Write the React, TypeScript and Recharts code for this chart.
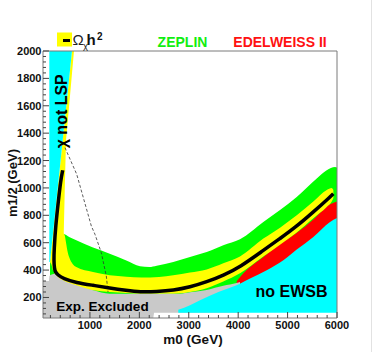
import React from "react";
import {
  Area,
  ComposedChart,
  Label,
  Line,
  ReferenceArea,
  ReferenceDot,
  XAxis,
  YAxis,
} from "recharts";

const FONT = "'Liberation Sans', Arial, Helvetica, sans-serif";
const CYAN = "#00ffff";
const YELLOW = "#ffff00";
const GREEN = "#00ff00";
const RED = "#ff0000";
const GRAY = "#c9c9c9";

// axis ticks (GeV)
const xTickLabels = [1000, 2000, 3000, 4000, 5000, 6000];
const yTickLabels = [200, 400, 600, 800, 1000, 1200, 1400, 1600, 1800, 2000];

// central Omega h^2 line (m0, m1/2)
const omegaM0 = [449, 408, 360, 307, 275, 270, 280, 300, 350, 455, 724, 1062, 1400, 1736, 2013, 2351, 2687, 3025, 3363, 3699, 4037, 4509, 4847, 5185, 5521, 5859, 5926];
const omegaM12 = [1129, 1056, 900, 727, 550, 470, 415, 385, 365, 338, 308, 289, 269, 252, 240, 243, 252, 276, 313, 362, 422, 544, 630, 720, 824, 934, 958];

// thin dashed line
const dashM0 = [495, 732, 866, 1028, 1102, 1230, 1331, 1366];
const dashM12 = [1294, 1100, 929, 722, 661, 527, 357, 240];

// yellow band, vertical strip next to "chi not LSP"
const stripM0 = [192, 220, 250, 300, 350, 400, 455, 469, 495, 516, 560, 620, 637, 677];
const stripLow = [459, 440, 400, 380, 370, 360, 360, 660, 1056, 1348, 1526, 1769, 1838, 2000];
const stripHigh = [459, 556, 660, 833, 1006, 1179, 1370, 1418, 1508, 1581, 1733, 1941, 2000, 2000];

// yellow band, along the central line
const bandM0 = [280, 455, 489, 516, 545, 590, 650, 724, 1062, 1400, 1736, 2040, 2400, 2687, 3025, 3363, 3699, 4037, 4509, 4847, 5185, 5521, 5792, 5893, 5926];
const bandTop = [700, 669, 654, 600, 540, 484, 445, 422, 386, 362, 352, 345, 350, 362, 382, 405, 450, 500, 630, 710, 800, 900, 985, 1000, 985];
const bandLow = [300, 300, 295, 290, 285, 280, 275, 270, 252, 240, 233, 228, 228, 228, 240, 268, 317, 377, 499, 585, 675, 779, 860, 900, 925];

// ZEPLIN
const zeplinM0 = [192, 449, 590, 724, 1062, 1400, 1736, 2013, 2200, 2351, 2687, 3025, 3363, 3699, 4037, 4509, 5185, 5590, 5792, 5960, 6000];
const zeplinTop = [459, 666, 640, 617, 565, 520, 470, 428, 422, 432, 459, 496, 532, 581, 625, 751, 934, 1068, 1129, 1153, 1150];

// EDELWEISS II
const edelM0 = [3970, 4100, 4509, 4847, 5185, 5521, 5859, 6000];
const edelTop = [318, 375, 496, 590, 672, 770, 880, 900];
const edelLow = [300, 300, 380, 450, 520, 600, 700, 740];

// experimentally excluded
const expM0 = [50, 170, 178, 192, 287, 350, 455, 724, 1062, 1400, 2074, 2280, 2300, 2823, 3025, 3363, 3699, 3970, 4037];
const expTop = [320, 320, 352, 362, 374, 350, 325, 289, 252, 228, 228, 228, 228, 228, 238, 255, 285, 305, 313];
const expLow = [50, 50, 50, 50, 50, 50, 50, 50, 50, 50, 50, 50, 88, 88, 88, 88, 88, 88, 88];

// no EWSB
const ewsbM0 = [2788, 3025, 3228, 3600, 4037, 4240, 4578, 4914, 5185, 5521, 5859, 6000];
const ewsbTop = [110, 143, 179, 240, 301, 338, 398, 471, 550, 642, 751, 780];

// chi not LSP
const lspM0 = [178, 192, 637];
const lspLow = [459, 459, 2000];

const pts = (xs: number[], ys: number[]) => xs.map((x, i) => ({ x, y: ys[i] }));
const rng = (xs: number[], lo: number[] | number, hi: number[] | number) =>
  xs.map((x, i) => ({
    x,
    range: [Array.isArray(lo) ? lo[i] : lo, Array.isArray(hi) ? hi[i] : hi],
  }));

const xTicks: number[] = [];
for (let v = 200; v <= 6000; v += 200) xTicks.push(v);
const yTicks: number[] = [];
for (let v = 80; v <= 2000; v += 40) yTicks.push(v);

const YTick = ({ x, y, payload }: any) => {
  const major = yTickLabels.includes(payload.value);
  return (
    <g>
      <line x1={x + 2} x2={x + 2 + (major ? 6 : 3)} y1={y} y2={y} stroke="#444" />
      {major && (
        <text x={x + 0.5} y={y} dy={4} textAnchor="end" fontSize={11} fontWeight="bold" fontFamily={FONT} fill="#111">
          {payload.value}
        </text>
      )}
    </g>
  );
};

const XTick = ({ x, y, payload }: any) => {
  const major = xTickLabels.includes(payload.value);
  return (
    <g>
      <line x1={x} x2={x} y1={y - 2} y2={y - 2 - (major ? 6 : 3)} stroke="#444" />
      {major && (
        <text x={x} y={y + 8.5} textAnchor="middle" fontSize={11} fontWeight="bold" fontFamily={FONT} fill="#111">
          {payload.value}
        </text>
      )}
    </g>
  );
};

const bold = { fontFamily: FONT, fontWeight: "bold" as const };

export default function App() {
  return (
    <div style={{ position: "absolute", left: 0, top: 0, width: 374, height: 352, background: "#fff" }}>
      <ComposedChart width={374} height={352} margin={{ top: 51, right: 37, bottom: 0, left: 0 }}>
        <XAxis
          dataKey="x"
          type="number"
          domain={[50, 6000]}
          allowDataOverflow
          ticks={xTicks}
          interval={0}
          height={34}
          tickSize={0}
          tickMargin={2}
          axisLine={false}
          tickLine={false}
          tick={<XTick />}
        />
        <YAxis
          type="number"
          domain={[50, 2000]}
          allowDataOverflow
          ticks={yTicks}
          interval={0}
          width={43}
          tickSize={0}
          tickMargin={2}
          axisLine={false}
          tickLine={false}
          tick={<YTick />}
        />
        <Area data={rng(zeplinM0, 100, zeplinTop)} dataKey="range" type="monotone" fill={GREEN} fillOpacity={1} stroke="none" isAnimationActive={false} />
        <Area data={rng(edelM0, edelLow, edelTop)} dataKey="range" type="monotone" fill={RED} fillOpacity={1} stroke="none" isAnimationActive={false} />
        <Area data={rng(bandM0, bandLow, bandTop)} dataKey="range" type="monotone" fill={YELLOW} fillOpacity={1} stroke="none" isAnimationActive={false} />
        <Area data={rng(stripM0, stripLow, stripHigh)} dataKey="range" type="linear" fill={YELLOW} fillOpacity={1} stroke="none" isAnimationActive={false} />
        <Area data={rng(expM0, expLow, expTop)} dataKey="range" type="monotone" fill={GRAY} fillOpacity={1} stroke="none" isAnimationActive={false} />
        <Area data={rng(ewsbM0, 88, ewsbTop)} dataKey="range" type="monotone" fill={CYAN} fillOpacity={1} stroke="none" isAnimationActive={false} />
        <Area data={rng(lspM0, lspLow, 2000)} dataKey="range" type="linear" fill={CYAN} fillOpacity={1} stroke="none" isAnimationActive={false} />
        <Line data={pts(dashM0, dashM12)} dataKey="y" type="linear" stroke="#333" strokeWidth={0.8} strokeDasharray="3 2" dot={false} isAnimationActive={false} />
        <Line data={pts(omegaM0, omegaM12)} dataKey="y" type="basis" stroke="#000" strokeWidth={3.5} dot={false} isAnimationActive={false} />
        <ReferenceArea x1={50} x2={6000} y1={50} y2={2000} fill="none" stroke="#7a7a7a" strokeWidth={1} ifOverflow="visible" />
        <ReferenceDot x={424} y={1560} r={0} fill="none" stroke="none" ifOverflow="visible">
          <Label value="χ not LSP" position="center" angle={-90} fontSize={16} fontWeight="bold" fontFamily={FONT} fill="#000" />
        </ReferenceDot>
        <ReferenceDot x={1254} y={133} r={0} fill="none" stroke="none" ifOverflow="visible">
          <Label value="Exp. Excluded" position="center" fontSize={13.5} fontWeight="bold" fontFamily={FONT} fill="#000" />
        </ReferenceDot>
        <ReferenceDot x={5080} y={245} r={0} fill="none" stroke="none" ifOverflow="visible">
          <Label value="no EWSB" position="center" fontSize={16} fontWeight="bold" fontFamily={FONT} fill="#000" />
        </ReferenceDot>
      </ComposedChart>
      <svg width={374} height={352} style={{ position: "absolute", left: 0, top: 0, pointerEvents: "none" }}>
        <rect x={57} y={32.5} width={15} height={14} fill={YELLOW} />
        <line x1={63} x2={70} y1={40.5} y2={40.5} stroke="#000" strokeWidth={3} />
        <text x={72.5} y={45} fontSize={15} fontFamily={FONT} fill="#222">Ω</text>
        <text x={83} y={48.5} fontSize={9.5} fontFamily={FONT} fill="#222">χ</text>
        <text x={86.5} y={45} fontSize={15} {...bold} fill="#111">h</text>
        <text x={97} y={39.5} fontSize={10} {...bold} fill="#111">2</text>
        <text x={182.5} y={46.5} fontSize={14} textAnchor="middle" {...bold} fill="#11ee11">ZEPLIN</text>
        <text x={280} y={46.5} fontSize={14} textAnchor="middle" {...bold} fill="#ff1111">EDELWEISS II</text>
        <text x={16.5} y={183} fontSize={13} textAnchor="middle" {...bold} fill="#111" transform="rotate(-90, 16.5, 183)">
          m1/2 (GeV)
        </text>
        <text x={193} y={343.5} fontSize={13.5} textAnchor="middle" {...bold} fill="#111">m0 (GeV)</text>
        <line x1={371.5} x2={371.5} y1={0} y2={352} stroke="#e2e2e2" />
      </svg>
    </div>
  );
}
